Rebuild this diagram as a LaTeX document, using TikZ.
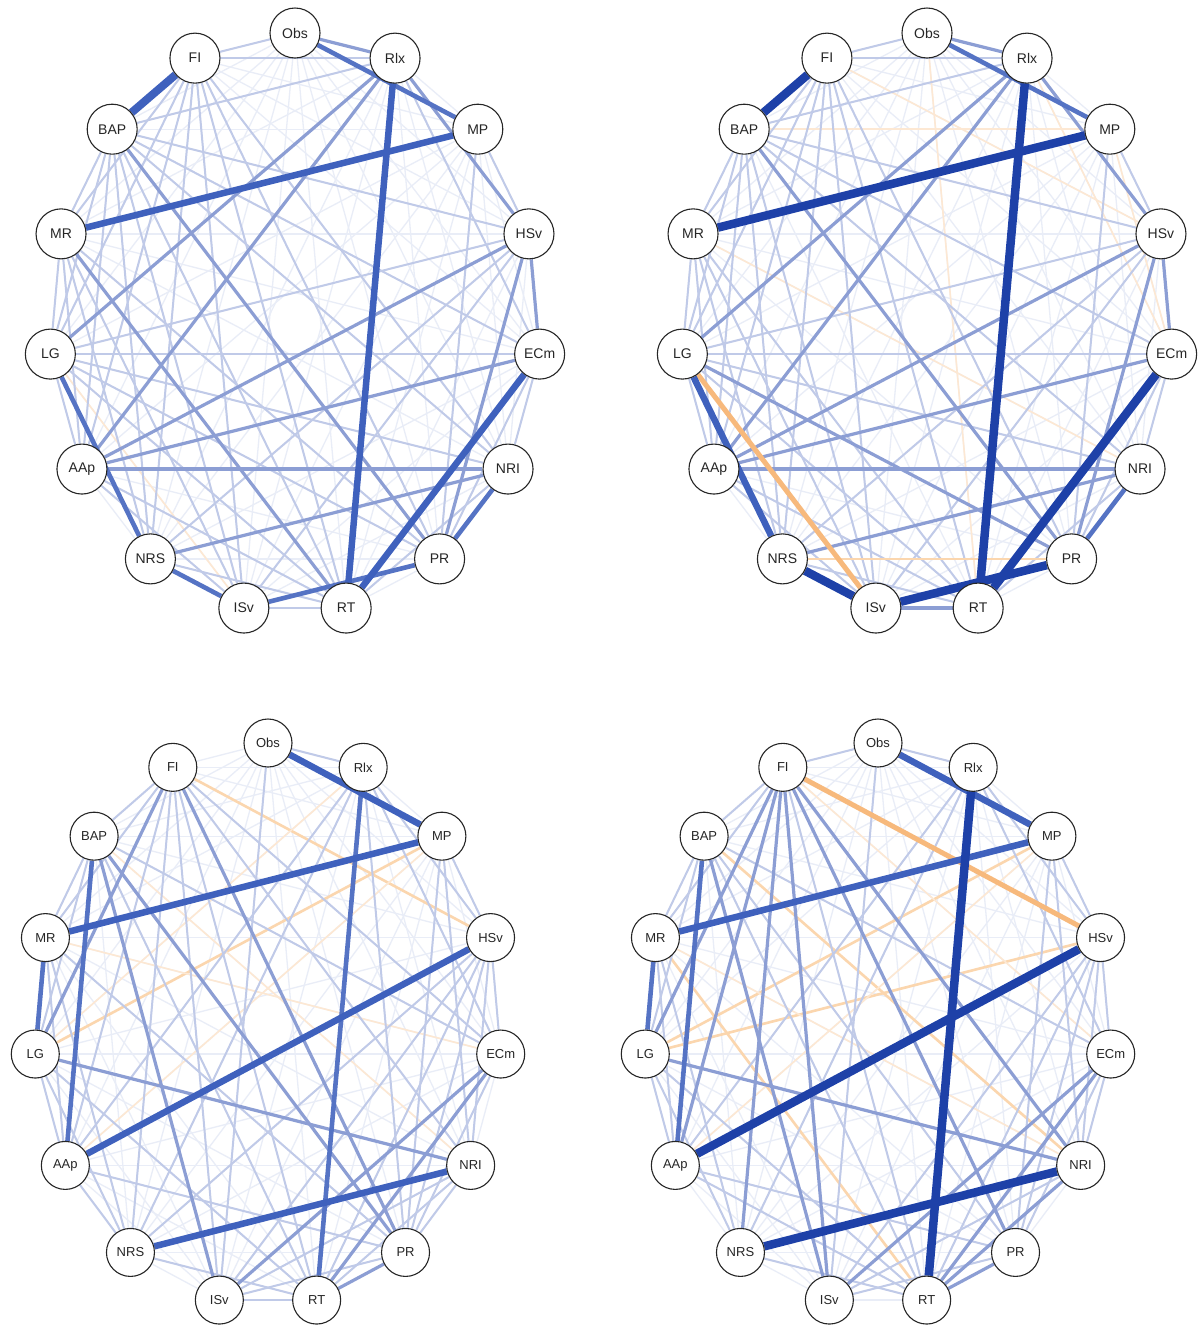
\documentclass[tikz,border=0pt]{standalone}
\usepackage{fontspec}
\setmainfont{Liberation Sans}

% edge colours: blue for positive weights, orange for negative ones
\definecolor{c0}{HTML}{E9EDF7}
\definecolor{c1}{HTML}{C0CAE8}
\definecolor{c2}{HTML}{8C9ED4}
\definecolor{c3}{HTML}{5573C4}
\definecolor{c4}{HTML}{3F61BD}
\definecolor{c5}{HTML}{1E41A8}
\definecolor{o0}{HTML}{FDE8D3}
\definecolor{o1}{HTML}{FBD6AE}
\definecolor{o2}{HTML}{F7B97C}

\pgfdeclarelayer{edgelayer}
\pgfsetlayers{edgelayer,main}

\tikzset{
  vnode/.style={circle, draw=black!85, line width=1.1pt, fill=white,
    minimum size=50pt, inner sep=0pt, text=black!85,
    font=\fontsize{14}{14}\selectfont},
  vsmall/.style={vnode, minimum size=48pt, font=\fontsize{13}{13}\selectfont},
  e0/.style={draw=c0, line width=1.3pt},
  e1/.style={draw=c1, line width=2pt},
  e2/.style={draw=c2, line width=3.2pt},
  e3/.style={draw=c3, line width=4.6pt},
  e4/.style={draw=c4, line width=6.5pt},
  e5/.style={draw=c5, line width=8.5pt},
  n0/.style={draw=o0, line width=1.6pt},
  n1/.style={draw=o1, line width=2.6pt},
  n2/.style={draw=o2, line width=5pt},
}

\newcommand\netnames{Obs,Rlx,MP,HSv,ECm,NRI,PR,RT,ISv,NRS,AAp,LG,MR,BAP,FI}

% the fifteen nodes of one network, on an ellipse: prefix, cx, cy, a, b, style
\newcommand\placenodes[6]{%
  \foreach \nm [count=\k from 0] in \netnames
    \node[#6] (#1\nm) at ({#2+#4*cos(90-24*\k)},{#3-#5*sin(90-24*\k)}) {\nm};
}

% faint web of every pair
\newcommand\haze[1]{%
  \foreach \u [count=\i] in \netnames {
    \foreach \v [count=\j] in \netnames {
      \ifnum\i<\j \draw[e0] (#1\u) -- (#1\v);\fi
    }
  }
}

% weighted edges: style/from/to
\newcommand\links[2]{\foreach \s/\u/\v in {#2} {\draw[\s] (#1\u) -- (#1\v);}}

\begin{document}
\begin{tikzpicture}[x=1pt, y=-1pt]
\useasboundingbox (0,0) rectangle (1204,1326);

\placenodes{pa}{295}{323.7}{246}{290.7}{vnode}
\placenodes{pb}{927}{323.7}{246}{290.7}{vnode}
\placenodes{pc}{268}{1024.6}{234}{281.6}{vsmall}
\placenodes{pd}{878}{1024.6}{234}{281.6}{vsmall}

\begin{pgfonlayer}{edgelayer}
\fill[white] (0,0) rectangle (1204,1326);

% ---- network A ----
\haze{pa}
\links{pa}{n0/LG/ISv,
  e1/Obs/FI, e1/BAP/Rlx, e1/FI/Rlx, e1/BAP/HSv, e1/BAP/MR, e1/BAP/LG,
  e1/BAP/AAp, e1/BAP/NRS, e1/BAP/ISv, e1/BAP/ECm, e1/BAP/NRI, e1/BAP/RT,
  e1/FI/MR, e1/FI/LG, e1/FI/AAp, e1/FI/NRS, e1/FI/ISv, e1/FI/PR, e1/FI/RT,
  e1/FI/NRI, e1/MR/AAp, e1/MR/NRS, e1/MR/ISv, e1/MR/PR, e1/MR/LG, e1/LG/PR,
  e1/LG/RT, e1/LG/NRI, e1/LG/AAp, e1/AAp/RT, e1/AAp/ISv, e1/NRS/RT,
  e1/MP/HSv, e1/MP/PR, e1/Rlx/ECm, e1/HSv/LG, e1/HSv/NRS, e1/HSv/ISv,
  e1/ECm/PR, e1/ECm/NRI, e1/NRI/RT, e1/LG/ECm, e1/ISv/RT,
  e2/Obs/Rlx, e2/Rlx/HSv, e2/Rlx/LG, e2/Rlx/AAp, e2/HSv/AAp, e2/ECm/AAp,
  e2/NRI/AAp, e2/NRI/NRS, e2/HSv/ECm, e2/HSv/PR, e2/BAP/PR, e2/MR/RT,
  e3/LG/NRS, e3/NRI/PR, e3/Obs/MP, e3/NRS/ISv, e3/ISv/PR,
  e4/Rlx/RT, e4/ECm/RT, e4/MP/MR}
\draw[e4, line width=8pt] (paFI) -- (paBAP);

% ---- network B ----
\haze{pb}
\links{pb}{n0/Obs/RT, n0/Rlx/ECm, n0/MP/ECm, n0/FI/HSv, n0/MR/NRI, n0/BAP/MP,
  e1/Obs/FI, e1/BAP/Rlx, e1/FI/Rlx, e1/BAP/HSv, e1/BAP/MR, e1/BAP/LG,
  e1/BAP/AAp, e1/BAP/NRS, e1/BAP/ISv, e1/BAP/ECm, e1/BAP/NRI,
  e1/FI/MR, e1/FI/LG, e1/FI/AAp, e1/FI/NRS, e1/FI/ISv, e1/FI/PR, e1/FI/RT,
  e1/MR/AAp, e1/MR/NRS, e1/MR/ISv, e1/MR/LG, e1/LG/RT, e1/LG/NRI,
  e1/LG/AAp, e1/AAp/RT, e1/AAp/ISv, e1/NRS/RT, e1/MP/HSv, e1/MP/PR,
  e1/HSv/LG, e1/HSv/NRS, e1/HSv/ISv, e1/ECm/PR, e1/ECm/NRI, e1/NRI/RT,
  e1/LG/ECm, e1/MR/RT,
  e2/Obs/Rlx, e2/Rlx/HSv, e2/Rlx/LG, e2/Rlx/AAp, e2/HSv/AAp, e2/ECm/AAp,
  e2/NRI/AAp, e2/NRI/NRS, e2/HSv/ECm, e2/HSv/PR, e2/BAP/PR, e2/LG/PR,
  e2/ISv/RT,
  n1/NRS/PR, n2/LG/ISv,
  e3/NRI/PR, e3/Obs/MP, e4/LG/NRS,
  e5/NRS/ISv, e5/ISv/PR, e5/Rlx/RT, e5/ECm/RT, e5/MP/MR, e5/FI/BAP}

% ---- network C ----
\haze{pc}
\links{pc}{n1/FI/HSv, n1/MP/LG, n0/MP/AAp, n0/BAP/NRI, n0/MR/ECm, n0/Rlx/LG,
  e1/FI/BAP, e1/FI/MR, e1/FI/AAp, e1/FI/NRS, e1/FI/ISv, e1/FI/RT,
  e1/FI/NRI, e1/FI/ECm, e1/Obs/ISv, e1/Obs/Rlx, e1/Rlx/NRS, e1/Rlx/HSv,
  e1/Rlx/ECm, e1/Rlx/PR, e1/Rlx/AAp, e1/MP/HSv, e1/MP/NRI, e1/MP/PR,
  e1/BAP/MR, e1/BAP/LG, e1/BAP/ECm, e1/BAP/RT, e1/MR/AAp, e1/MR/NRS,
  e1/MR/PR, e1/HSv/ISv, e1/HSv/RT, e1/HSv/PR, e1/HSv/NRI, e1/HSv/ECm,
  e1/LG/AAp, e1/LG/NRS, e1/LG/RT, e1/AAp/PR, e1/AAp/NRS, e1/NRS/RT,
  e1/NRS/HSv, e1/ISv/PR, e1/ISv/RT, e1/ISv/NRI, e1/RT/NRI, e1/PR/ECm,
  e1/PR/NRI,
  e2/BAP/ISv, e2/FI/LG, e2/FI/PR, e2/BAP/PR, e2/RT/PR, e2/ECm/RT,
  e2/ECm/ISv, e2/LG/NRI,
  e3/BAP/AAp, e3/MR/LG, e3/Rlx/RT,
  e4/Obs/MP, e4/MP/MR, e4/HSv/AAp, e4/NRI/NRS}

% ---- network D ----
\haze{pd}
\links{pd}{n1/MP/LG, n1/HSv/LG, n1/BAP/NRI, n0/MP/AAp, n0/FI/ECm, n0/MR/NRI,
  n1/MR/RT,
  e1/FI/BAP, e1/FI/MR, e1/FI/RT, e1/FI/Obs, e1/Obs/ISv, e1/Obs/Rlx,
  e1/Rlx/AAp, e1/Rlx/HSv, e1/Rlx/ECm, e1/Rlx/NRS, e1/MP/HSv, e1/MP/NRI,
  e1/MP/PR, e1/BAP/MR, e1/BAP/LG, e1/BAP/ECm, e1/BAP/PR, e1/BAP/RT,
  e1/MR/NRS, e1/MR/AAp, e1/HSv/ISv, e1/HSv/RT, e1/HSv/PR, e1/HSv/NRI,
  e1/HSv/ECm, e1/LG/AAp, e1/LG/NRS, e1/LG/RT, e1/AAp/RT, e1/AAp/PR,
  e1/NRS/RT, e1/ISv/NRI, e1/ISv/PR, e1/ECm/PR, e1/ECm/NRI,
  e2/FI/LG, e2/FI/AAp, e2/FI/NRS, e2/FI/ISv, e2/FI/PR, e2/FI/NRI,
  e2/BAP/ISv, e2/LG/NRI, e2/ISv/ECm, e2/RT/ECm, e2/RT/NRI, e2/RT/PR,
  n2/FI/HSv,
  e3/MR/LG, e3/BAP/AAp,
  e4/Obs/MP, e4/MP/MR,
  e5/Rlx/RT, e5/HSv/AAp, e5/NRI/NRS}
\end{pgfonlayer}
\end{tikzpicture}
\end{document}
